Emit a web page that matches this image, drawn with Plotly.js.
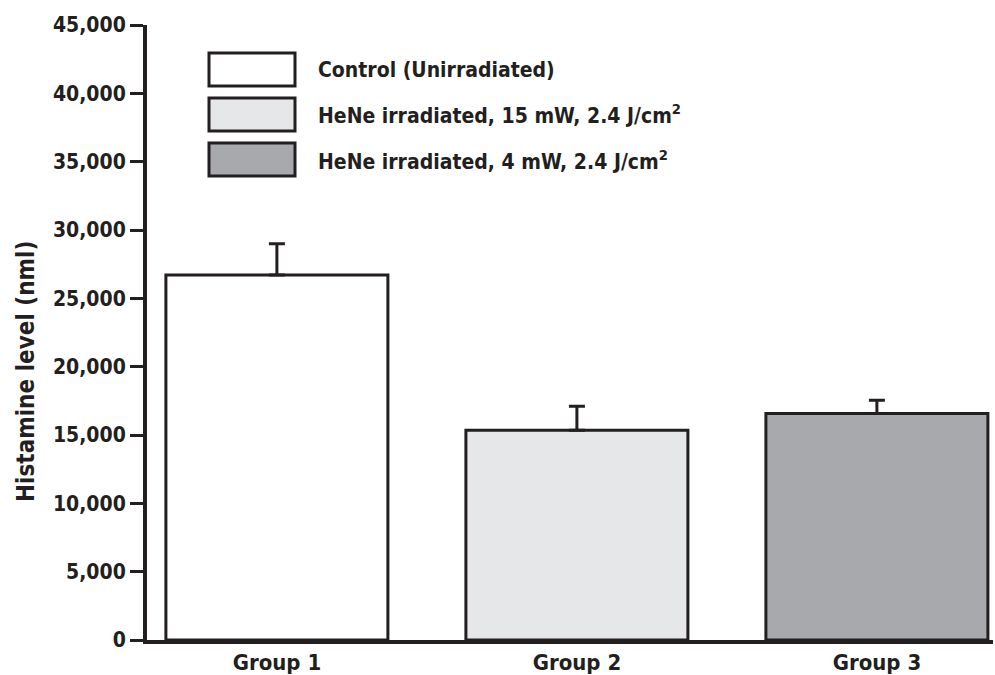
<!DOCTYPE html>
<html>
<head>
<meta charset="utf-8">
<script src="https://cdn.plot.ly/plotly-3.0.1.min.js"></script>
<style>html,body{margin:0;padding:0;background:#fff;}#chart{width:995px;height:675px;}</style>
</head>
<body>
<div id="chart"></div>
<script>
const categories = ["Group 1", "Group 2", "Group 3"];
const seriesNames = ["Control (Unirradiated)", "HeNe irradiated, 15 mW, 2.4 J/cm<sup>2</sup>", "HeNe irradiated, 4 mW, 2.4 J/cm<sup>2</sup>"];
const histamine = [26700, 15350, 16570];
const errorPlus = [2300, 1750, 980];
const barColors = ["#ffffff", "#e6e7e8", "#a7a9ac"];
const yTickVals = [0, 5000, 10000, 15000, 20000, 25000, 30000, 35000, 40000, 45000];
const yTickText = ["0", "5,000", "10,000", "15,000", "20,000", "25,000", "30,000", "35,000", "40,000", "45,000"];
const yTitle = "Histamine level (nml)";

const FONT = '"DejaVu Sans Condensed", "DejaVu Sans", sans-serif';
const INK = '#231f20';

const trace = {
  type: 'bar',
  x: categories,
  y: histamine,
  width: 0.74,
  marker: {color: barColors, line: {color: INK, width: 3}},
  error_y: {type: 'data', symmetric: false, array: errorPlus, arrayminus: [0,0,0], color: INK, thickness: 3, width: 8},
  showlegend: false,
  hoverinfo: 'none'
};

// legend drawn as large boxes with labels (paper coordinates)
const shapes = [];
const annotations = [];
const legTop = [53, 98, 143];
seriesNames.forEach((name, i) => {
  shapes.push({type: 'rect', xref: 'paper', yref: 'paper',
    x0: (209 - 147) / 846, x1: (295 - 147) / 846,
    y0: (640 - legTop[i] - 33) / 615, y1: (640 - legTop[i]) / 615,
    fillcolor: barColors[i], line: {color: INK, width: 3}});
  annotations.push({xref: 'paper', yref: 'paper', x: (316 - 147) / 846, y: (640 - legTop[i] - 16.5) / 615,
    xanchor: 'left', yanchor: 'middle', showarrow: false, text: name,
    font: {family: FONT, size: 21, color: INK, weight: 'bold'}});
});
annotations.push({xref: 'paper', yref: 'paper', x: (26 - 147) / 846, y: (640 - 371) / 615,
  xanchor: 'center', yanchor: 'middle', showarrow: false, textangle: -90, text: yTitle,
  font: {family: FONT, size: 24, color: INK, weight: 'bold'}});

const layout = {
  width: 995, height: 675,
  margin: {l: 147, r: 2, t: 25, b: 35},
  paper_bgcolor: '#ffffff', plot_bgcolor: '#ffffff',
  font: {family: FONT, color: INK, weight: 'bold'},
  xaxis: {
    range: [-0.433, 2.387], type: 'category',
    showline: true, linecolor: INK, linewidth: 4,
    ticks: '', showgrid: false, zeroline: false,
    tickfont: {family: FONT, size: 22, color: INK, weight: 'bold'}
  },
  yaxis: {
    range: [0, 45000], tickvals: yTickVals, ticktext: yTickText,
    showline: true, linecolor: INK, linewidth: 4,
    ticks: 'outside', ticklen: 13, tickwidth: 3, tickcolor: INK,
    showgrid: false, zeroline: false,
    tickfont: {family: FONT, size: 21, color: INK, weight: 'bold'}
  },
  shapes: shapes,
  annotations: annotations
};

Plotly.newPlot('chart', [trace], layout, {displayModeBar: false, staticPlot: true});
</script>
</body>
</html>
